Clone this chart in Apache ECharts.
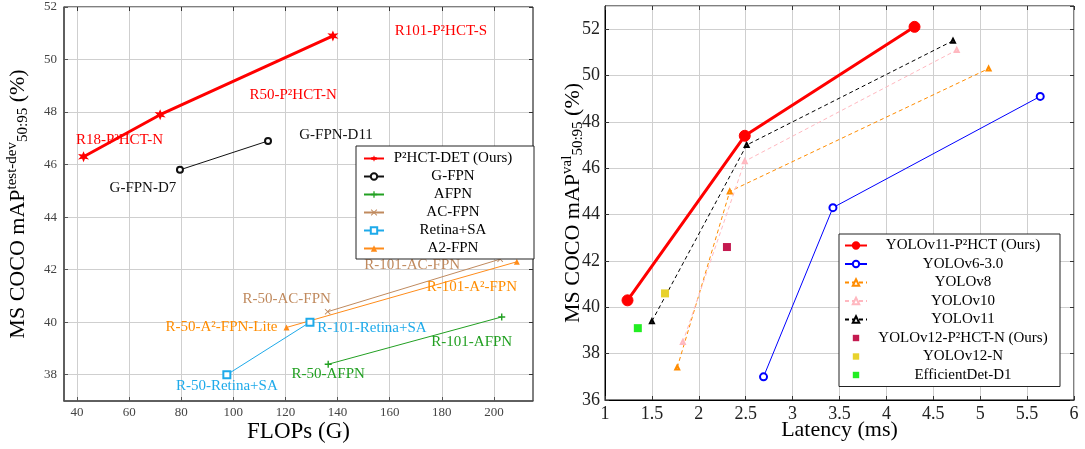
<!DOCTYPE html>
<html><head><meta charset="utf-8">
<script src="https://cdn.jsdelivr.net/npm/echarts@6/dist/echarts.min.js"></script>
<style>html,body{margin:0;padding:0;background:#fff}#c{width:1085px;height:449px}</style>
</head><body><div id="c"></div>
<script>
// ---------- Left chart data: FLOPs (G) vs mAP test-dev ----------
const p2hctFlops = [42.5, 71.9, 138.2];
const p2hctMap = [46.3, 47.9, 50.9];
const p2hctLabels = ['R18-P²HCT-N', 'R50-P²HCT-N', 'R101-P²HCT-S'];
const gfpnFlops = [79.5, 113.3];
const gfpnMap = [45.8, 46.9];
const gfpnLabels = ['G-FPN-D7', 'G-FPN-D11'];
const afpnFlops = [136.4, 203.0];
const afpnMap = [38.4, 40.2];
const afpnLabels = ['R-50-AFPN', 'R-101-AFPN'];
const acfpnFlops = [136.2, 202.4];
const acfpnMap = [40.4, 42.4];
const acfpnLabels = ['R-50-AC-FPN', 'R-101-AC-FPN'];
const retinaFlops = [97.5, 129.4];
const retinaMap = [38.0, 40.0];
const retinaLabels = ['R-50-Retina+SA', 'R-101-Retina+SA'];
const a2fpnFlops = [120.4, 208.8];
const a2fpnMap = [39.8, 42.3];
const a2fpnLabels = ['R-50-A²-FPN-Lite', 'R-101-A²-FPN'];
const flopsTicks = [40, 60, 80, 100, 120, 140, 160, 180, 200];
const mapTicksLeft = [38, 40, 42, 44, 46, 48, 50, 52];

// ---------- Right chart data: Latency (ms) vs mAP val ----------
const p2hctLatency = [1.24, 2.49, 4.30];
const p2hctVal = [40.3, 47.4, 52.1];
const v6Latency = [2.69, 3.43, 5.64];
const v6Val = [37.0, 44.3, 49.1];
const v8Latency = [1.77, 2.33, 5.09];
const v8Val = [37.4, 45.0, 50.3];
const v10Latency = [1.83, 2.49, 4.75];
const v10Val = [38.5, 46.3, 51.1];
const v11Latency = [1.50, 2.51, 4.71];
const v11Val = [39.4, 47.0, 51.5];
const v12p2Latency = [2.30];
const v12p2Val = [42.6];
const v12nLatency = [1.64];
const v12nVal = [40.6];
const effd1Latency = [1.35];
const effd1Val = [39.1];

// ---------- styles ----------
const F = '"Liberation Serif", "Times New Roman", serif';
const labelOffsets = {
  p2hct: [[36, -17], [133, -20], [108, -5]],
  gfpn: [[-37, 18], [68, -6]],
  afpn: [[0, 10], [-30, 25]],
  acfpn: [[-41, -13], [-88, 6]],
  retina: [[0, 11], [62, 6]],
  a2fpn: [[-65, 0], [-45, 25]]
};
const starPath = 'path://M0,-10L2.25,-3.9L8.66,-5L4.5,0L8.66,5L2.25,3.9L0,10L-2.25,3.9L-8.66,5L-4.5,0L-8.66,-5L-2.25,-3.9Z';
const plusPath = 'path://M4,0L6,0L6,4L10,4L10,6L6,6L6,10L4,10L4,6L0,6L0,4L4,4Z';
const xPath = 'path://M1,0L5,4L9,0L10,1L6,5L10,9L9,10L5,6L1,10L0,9L4,5L0,1Z';

function pts(xs, ys) { return xs.map((x, i) => [x, ys[i]]); }
function labeled(xs, ys, names, offs, color) {
  return xs.map((x, i) => ({
    value: [x, ys[i]],
    label: { show: true, formatter: names[i], position: 'inside', align: 'center', verticalAlign: 'middle',
      offset: offs[i], color: color, fontFamily: F, fontSize: 15 }
  }));
}
function leftLine(name, xs, ys, names, offs, color, labelColor, symbol, size, width, extra) {
  return Object.assign({
    name, type: 'line', xAxisIndex: 0, yAxisIndex: 0,
    data: labeled(xs, ys, names, offs, labelColor),
    symbol, symbolSize: size, showAllSymbol: true,
    lineStyle: { color, width }, itemStyle: { color },
    emphasis: { disabled: true }, animation: false
  }, extra || {});
}
function rightLine(name, xs, ys, color, symbol, size, width, dashed, extra) {
  return Object.assign({
    name, type: 'line', xAxisIndex: 2, yAxisIndex: 2,
    data: pts(xs, ys), symbol, symbolSize: size,
    lineStyle: { color, width, type: dashed ? [4, 3] : 'solid' },
    itemStyle: { color, borderColor: color, borderWidth: 1 },
    emphasis: { disabled: true }, animation: false
  }, extra || {});
}
function rightPoint(name, xs, ys, color) {
  return { name, type: 'line', xAxisIndex: 2, yAxisIndex: 2, data: pts(xs, ys),
    symbol: 'rect', symbolSize: 8, itemStyle: { color }, lineStyle: { opacity: 0, width: 0 },
    emphasis: { disabled: true }, animation: false };
}

const gridLine = { show: true, lineStyle: { color: '#cfcfcf', width: 1 } };
function mirrorAxis(gridIndex, min, max, pos, ticks, interval) {
  const a = { type: 'value', gridIndex, min, max, position: pos,
    axisLine: { show: false }, axisLabel: { show: false }, splitLine: { show: false },
    axisTick: { show: true, inside: true, length: 4, lineStyle: { color: '#333' } } };
  if (ticks) { a.axisTick.customValues = ticks; a.axisLabel.customValues = ticks; }
  if (interval) a.interval = interval;
  return a;
}
const supSub = (main) => ({
  a: { fontFamily: F, fontSize: main, lineHeight: 26, color: '#000' },
  sup: { fontFamily: F, fontSize: 15, lineHeight: 15, verticalAlign: 'top', color: '#000' },
  sub: { fontFamily: F, fontSize: 15, lineHeight: 15, verticalAlign: 'bottom', color: '#000' }
});

const chart = echarts.init(document.getElementById('c'), null, { renderer: 'canvas' });
chart.setOption({
  backgroundColor: '#fff',
  animation: false,
  grid: [
    { left: 64, top: 7, width: 469, height: 394, show: true, borderColor: '#000', borderWidth: 1, backgroundColor: '#fff', outerBoundsMode: 'none', containLabel: false },
    { left: 605, top: 6, width: 469, height: 394, show: true, borderColor: '#000', borderWidth: 1, backgroundColor: '#fff', outerBoundsMode: 'none', containLabel: false }
  ],
  xAxis: [
    { type: 'value', gridIndex: 0, min: 35, max: 215, position: 'bottom',
      name: 'FLOPs (G)', nameLocation: 'middle', nameGap: 19, nameMoveOverlap: false,
      nameTextStyle: { fontFamily: F, fontSize: 23, color: '#000' },
      axisLine: { show: true, onZero: false, lineStyle: { color: '#555', width: 1.5 } },
      axisTick: { show: true, inside: true, length: 4, customValues: flopsTicks, lineStyle: { color: '#555' } },
      axisLabel: { customValues: flopsTicks, fontFamily: F, fontSize: 13, color: '#444', margin: 5 },
      splitLine: gridLine },
    mirrorAxis(0, 35, 215, 'top', flopsTicks),
    { type: 'value', gridIndex: 1, min: 1, max: 6, interval: 0.5, position: 'bottom',
      name: 'Latency (ms)', nameLocation: 'middle', nameGap: 19, nameMoveOverlap: false,
      nameTextStyle: { fontFamily: F, fontSize: 22, color: '#000' },
      axisLine: { show: true, onZero: false, lineStyle: { color: '#000', width: 1 } },
      axisTick: { show: true, inside: true, length: 4, lineStyle: { color: '#333' } },
      axisLabel: { fontFamily: F, fontSize: 18, color: '#222', margin: 5, showMinLabel: true, showMaxLabel: true },
      splitLine: gridLine },
    mirrorAxis(1, 1, 6, 'top', null, 0.5)
  ],
  yAxis: [
    { type: 'value', gridIndex: 0, min: 37, max: 52, position: 'left',
      name: '{a|MS COCO mAP}{sup|test-dev}{sub|50:95}{a| (%)}', nameLocation: 'middle', nameGap: 33, nameRotate: 90, nameMoveOverlap: false,
      nameTextStyle: { fontFamily: F, color: '#000', rich: supSub(22) },
      axisLine: { show: true, onZero: false, lineStyle: { color: '#555', width: 1.5 } },
      axisTick: { show: true, inside: true, length: 4, customValues: mapTicksLeft, lineStyle: { color: '#555' } },
      axisLabel: { customValues: mapTicksLeft, fontFamily: F, fontSize: 13, color: '#444', margin: 7 },
      splitLine: gridLine },
    mirrorAxis(0, 37, 52, 'right', mapTicksLeft),
    { type: 'value', gridIndex: 1, min: 36, max: 53, interval: 2, position: 'left',
      name: '{a|MS COCO mAP}{sup|val}{sub|50:95}{a| (%)}', nameLocation: 'middle', nameGap: 19, nameRotate: 90, nameMoveOverlap: false,
      nameTextStyle: { fontFamily: F, color: '#000', rich: supSub(22) },
      axisLine: { show: true, onZero: false, lineStyle: { color: '#000', width: 1 } },
      axisTick: { show: true, inside: true, length: 4, lineStyle: { color: '#333' } },
      axisLabel: { fontFamily: F, fontSize: 18, color: '#222', margin: 5, showMaxLabel: false },
      splitLine: gridLine },
    mirrorAxis(1, 36, 53, 'right', null, 2)
  ],
  legend: [
    { orient: 'vertical', left: 356, top: 146, padding: [5, 17, 3, 7], itemGap: 3, itemWidth: 20, itemHeight: 8,
      backgroundColor: '#fff', borderColor: '#222', borderWidth: 1, borderRadius: 0,
      data: ['P²HCT-DET (Ours)', 'G-FPN', 'AFPN', 'AC-FPN', 'Retina+SA', 'A2-FPN'],
      formatter: n => '{t|' + n + '}',
      textStyle: { fontFamily: F, fontSize: 15, color: '#000', rich: { t: { width: 128, align: 'center', fontFamily: F, fontSize: 15, lineHeight: 15, color: '#000' } } },
      selectedMode: false },
    { orient: 'vertical', left: 839, top: 234, padding: [4, 6, 4, 5], itemGap: 3.5, itemWidth: 22, itemHeight: 8,
      backgroundColor: '#fff', borderColor: '#222', borderWidth: 1, borderRadius: 0,
      data: ['YOLOv11-P²HCT (Ours)', 'YOLOv6-3.0', 'YOLOv8', 'YOLOv10', 'YOLOv11', 'YOLOv12-P²HCT-N (Ours)', 'YOLOv12-N', 'EfficientDet-D1'],
      formatter: n => '{t|' + n + '}',
      textStyle: { fontFamily: F, fontSize: 15, color: '#000', rich: { t: { width: 182, align: 'center', fontFamily: F, fontSize: 15, lineHeight: 15, color: '#000' } } },
      selectedMode: false }
  ],
  series: [
    leftLine('G-FPN', gfpnFlops, gfpnMap, gfpnLabels, labelOffsets.gfpn, '#111', '#111', 'emptyCircle', 6, 1),
    leftLine('AFPN', afpnFlops, afpnMap, afpnLabels, labelOffsets.afpn, '#22a022', '#22a022', plusPath, 7, 1),
    leftLine('AC-FPN', acfpnFlops, acfpnMap, acfpnLabels, labelOffsets.acfpn, '#c08a5e', '#c08a5e', xPath, 6, 1),
    leftLine('Retina+SA', retinaFlops, retinaMap, retinaLabels, labelOffsets.retina, '#1eaaea', '#1eaaea', 'emptyRect', 7, 1),
    leftLine('A2-FPN', a2fpnFlops, a2fpnMap, a2fpnLabels, labelOffsets.a2fpn, '#ff8c1a', '#ff8c00', 'triangle', 6, 1),
    leftLine('P²HCT-DET (Ours)', p2hctFlops, p2hctMap, p2hctLabels, labelOffsets.p2hct, '#ff0000', '#ff0000', starPath, 11, 3, { z: 5 }),

    rightLine('YOLOv6-3.0', v6Latency, v6Val, '#0000ff', 'emptyCircle', 7, 1, false),
    rightLine('YOLOv8', v8Latency, v8Val, '#ff8c00', 'emptyTriangle', 4, 1, true),
    rightLine('YOLOv10', v10Latency, v10Val, '#ffb8c0', 'emptyTriangle', 4, 1, true),
    rightLine('YOLOv11', v11Latency, v11Val, '#000000', 'emptyTriangle', 4, 1, true),
    rightPoint('YOLOv12-P²HCT-N (Ours)', v12p2Latency, v12p2Val, '#c41a50'),
    rightPoint('YOLOv12-N', v12nLatency, v12nVal, '#e8d22c'),
    rightPoint('EfficientDet-D1', effd1Latency, effd1Val, '#22ee22'),
    rightLine('YOLOv11-P²HCT (Ours)', p2hctLatency, p2hctVal, '#ff0000', 'circle', 11, 3, false, { z: 5 })
  ]
});
</script>
</body></html>
